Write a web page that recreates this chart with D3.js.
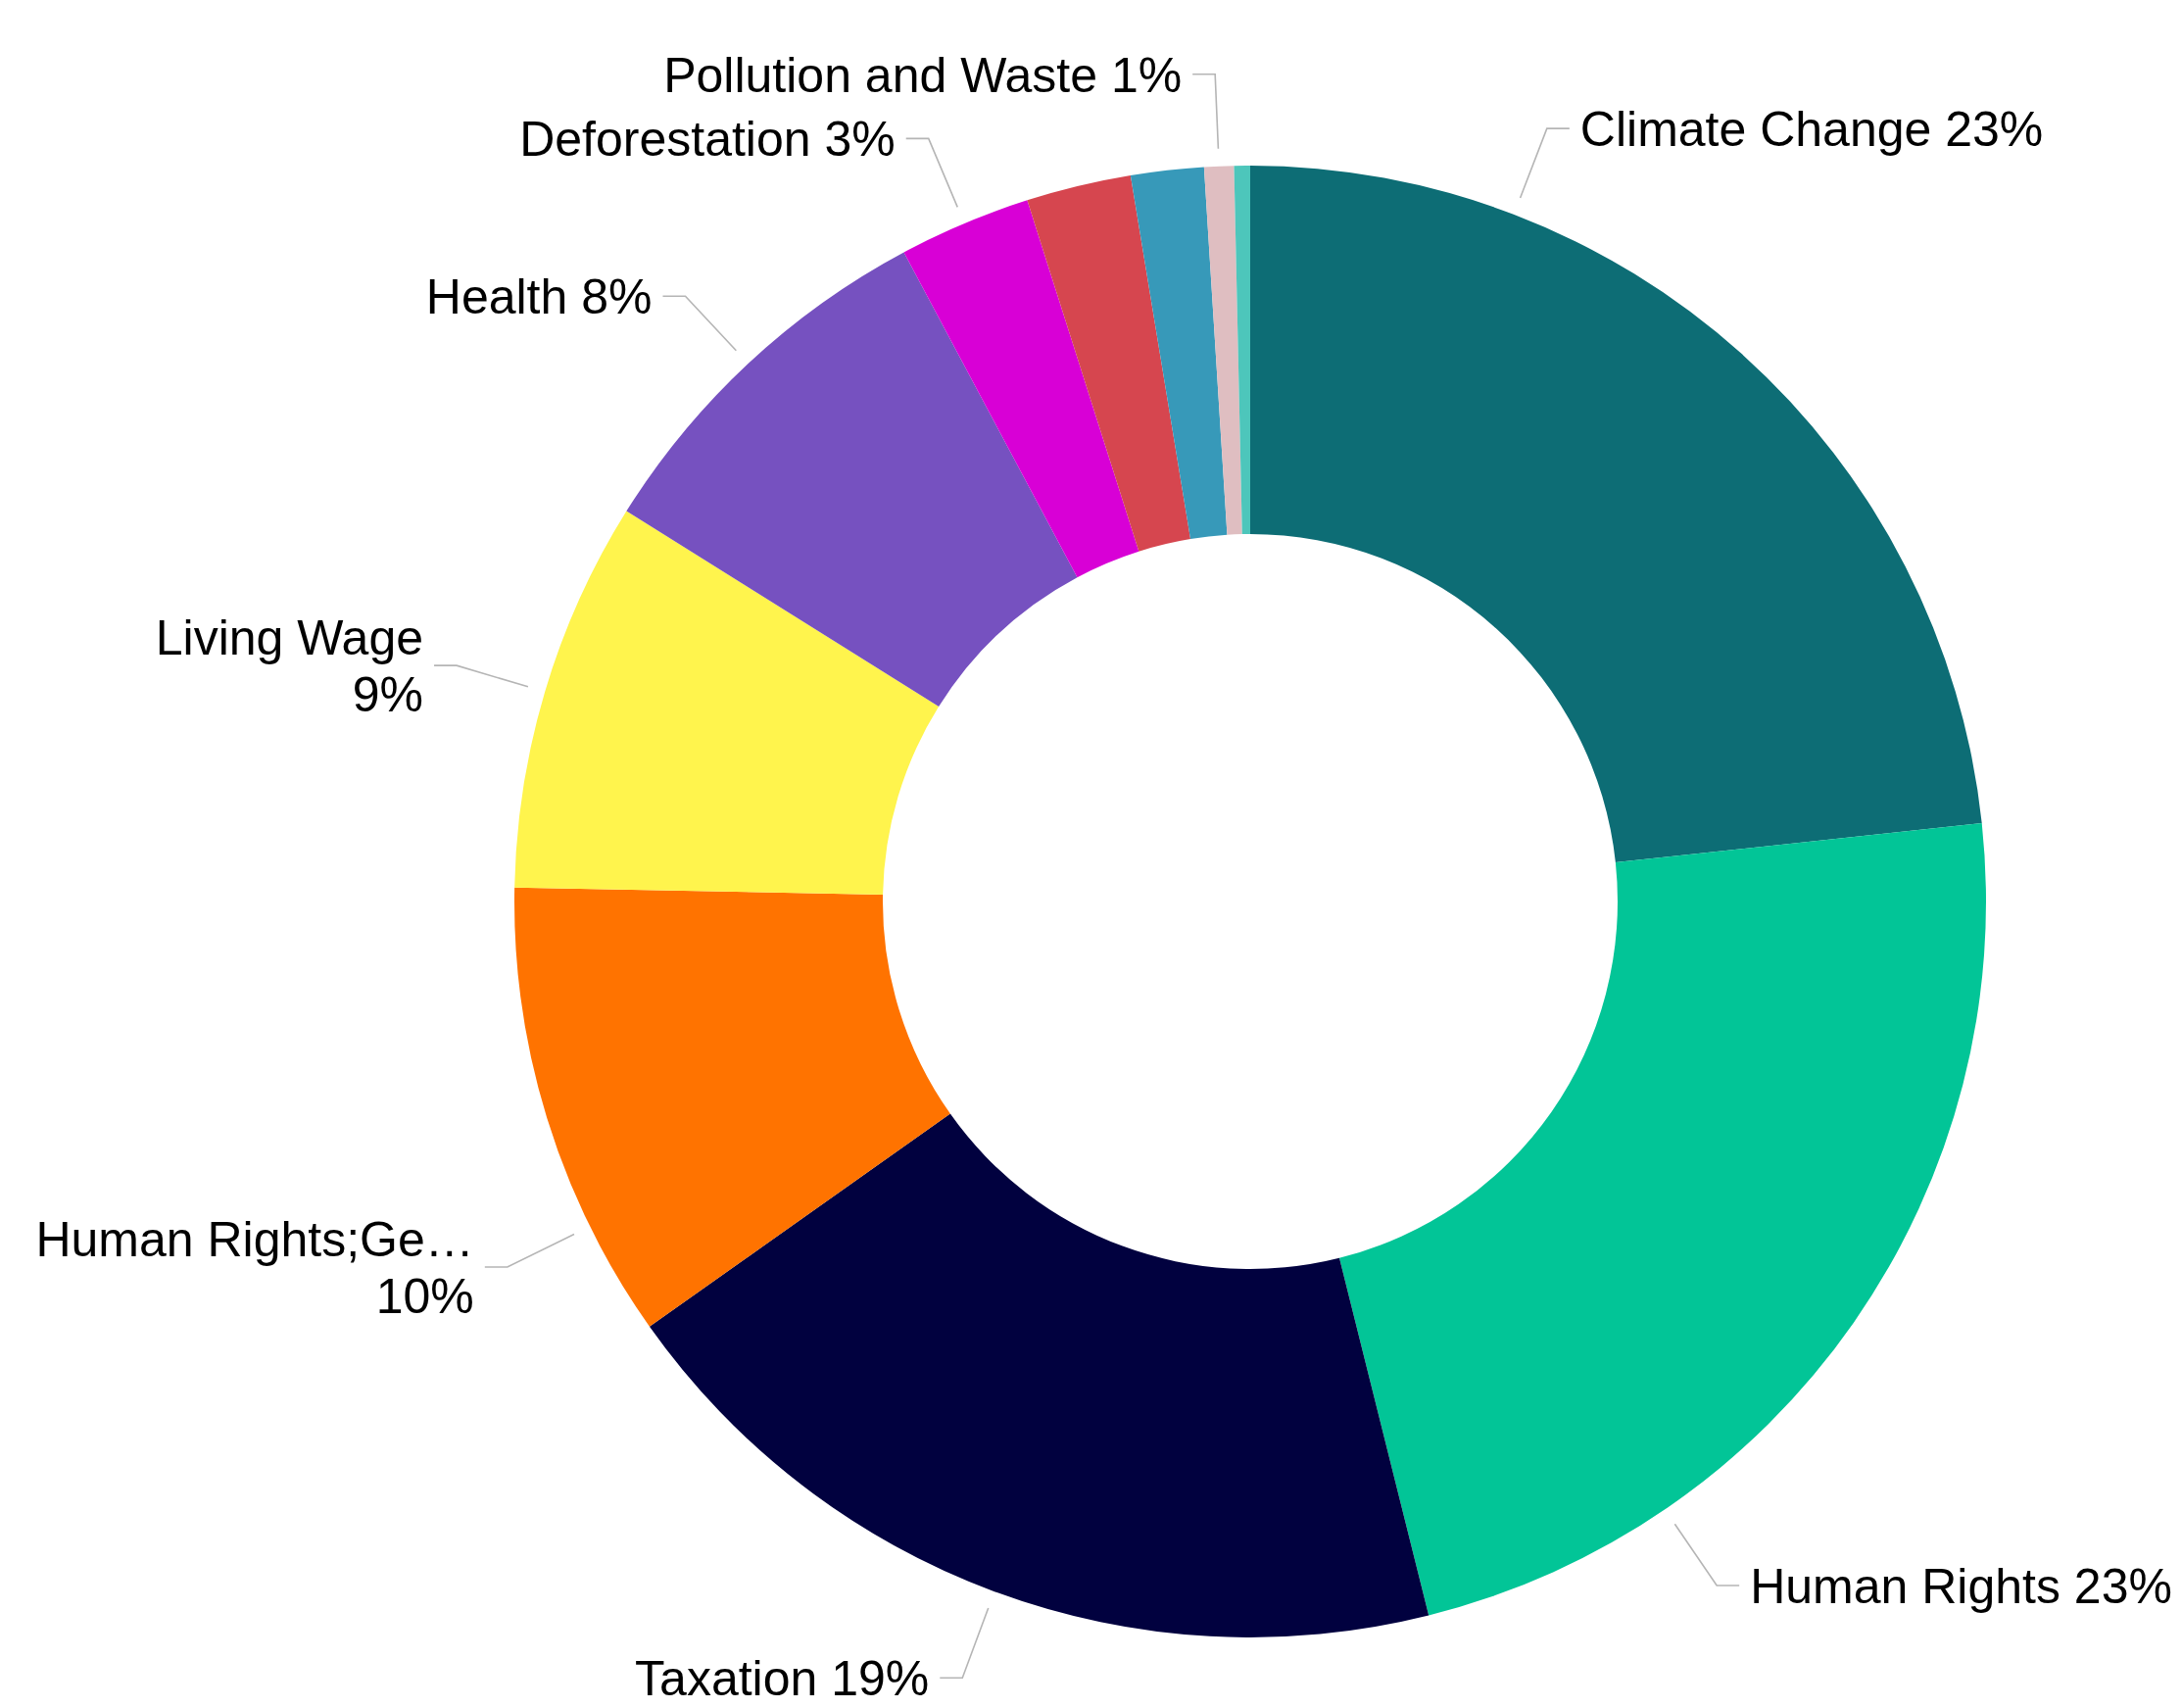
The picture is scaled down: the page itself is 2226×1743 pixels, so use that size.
<!DOCTYPE html>
<meta charset="utf-8" />
<html lang="en">
  <head>
    <script src="https://d3js.org/d3.v7.min.js"></script>
    <style>
      body {
        margin: 0;
        background: #fff;
      }
      svg text {
        font-family: "Liberation Sans", Arial, sans-serif;
        font-size: 50px;
        fill: #000;
      }
      .leaders polyline {
        fill: none;
        stroke: #b5b5b5;
        stroke-width: 1.6px;
      }
    </style>
  </head>
  <body>
    <svg width="2226" height="1743"></svg>
    <script>
      // slices, clockwise from 12 o'clock
      var categories = [
        "Climate Change",
        "Human Rights",
        "Taxation",
        "Human Rights;Gender Equality",
        "Living Wage",
        "Health",
        "Deforestation",
        "Other 1",
        "Other 2",
        "Pollution and Waste",
        "Other 3"
      ];
      var values = [23.3, 22.8, 19.1, 10.1, 8.6, 8.3, 2.9, 2.3, 1.6, 0.65, 0.35];
      var colors = [
        "#0d6d75",
        "#02c597",
        "#01013f",
        "#ff7300",
        "#fff44d",
        "#7651c0",
        "#d800d6",
        "#d6464f",
        "#3799b9",
        "#dfbec1",
        "#4dc6bb"
      ];
      // slices that get no label in the original
      var hiddenLabels = ["Other 1", "Other 2", "Other 3"];
      // labels nudged off their mid-angle (degrees from top)
      var labelAngle = {
        "Climate Change": 21,
        "Human Rights": 145.7,
        "Human Rights;Gender Equality": 243.8
      };

      var svg = d3.select("svg"),
        width = +svg.attr("width"),
        height = +svg.attr("height");

      var cx = 1276,
        cy = 920,
        outerR = 751,
        innerR = 375,
        lineStartR = 769,
        elbowR = 845,
        tail = 23,
        gap = 11,
        edge = 14;

      var data = categories.map(function(c, i) {
        return { name: c, value: values[i], color: colors[i] };
      });
      var total = d3.sum(values);

      var pie = d3
        .pie()
        .sort(null)
        .value(function(d) {
          return d.value;
        });

      var arc = d3
        .arc()
        .innerRadius(innerR)
        .outerRadius(outerR);

      var g = svg.append("g").attr("transform", "translate(" + cx + "," + cy + ")");

      var arcs = pie(data);

      g.append("g")
        .attr("class", "slices")
        .selectAll("path")
        .data(arcs)
        .enter()
        .append("path")
        .attr("d", arc)
        .attr("fill", function(d) {
          return d.data.color;
        });

      var labelled = arcs.filter(function(d) {
        return hiddenLabels.indexOf(d.data.name) < 0;
      });

      labelled.forEach(function(d) {
        var a =
          labelAngle[d.data.name] != null
            ? (labelAngle[d.data.name] * Math.PI) / 180
            : (d.startAngle + d.endAngle) / 2;
        d.p0 = d3.pointRadial(a, lineStartR);
        d.p1 = d3.pointRadial(a, elbowR);
        d.right = d.p1[0] > 0;
        d.p2 = [d.p1[0] + (d.right ? tail : -tail), d.p1[1]];
        // side labels go on two lines
        d.wrap = Math.abs(Math.sin(a)) > 0.85;
        d.pct = Math.round((d.data.value / total) * 100) + "%";
      });

      g.append("g")
        .attr("class", "leaders")
        .selectAll("polyline")
        .data(labelled)
        .enter()
        .append("polyline")
        .attr("points", function(d) {
          return [d.p0, d.p1, d.p2].join(" ");
        });

      var labels = g
        .append("g")
        .attr("class", "labels")
        .selectAll("text")
        .data(labelled)
        .enter()
        .append("text")
        .attr("text-anchor", function(d) {
          return d.right ? "start" : "end";
        })
        .attr("transform", function(d) {
          var x = d.p2[0] + (d.right ? gap : -gap);
          return "translate(" + x + "," + d.p2[1] + ")";
        });

      labels.each(function(d) {
        var t = d3.select(this);
        var x = d.p2[0] + (d.right ? gap : -gap);
        var room = d.right ? width - cx - x - edge : cx + x - edge;
        if (!d.wrap) {
          t.append("tspan")
            .attr("x", 0)
            .attr("dy", "0.36em")
            .text(d.data.name + " " + d.pct);
          return;
        }
        var first = t
          .append("tspan")
          .attr("x", 0)
          .attr("dy", "-0.22em")
          .text(d.data.name);
        // truncate long names to the space left
        var name = d.data.name;
        while (first.node().getComputedTextLength() > room && name.length > 1) {
          name = name.slice(0, -1);
          first.text(name.trim() + "\u2026");
        }
        t.append("tspan")
          .attr("x", 0)
          .attr("dy", "1.16em")
          .text(d.pct);
      });
    </script>
  </body>
</html>
